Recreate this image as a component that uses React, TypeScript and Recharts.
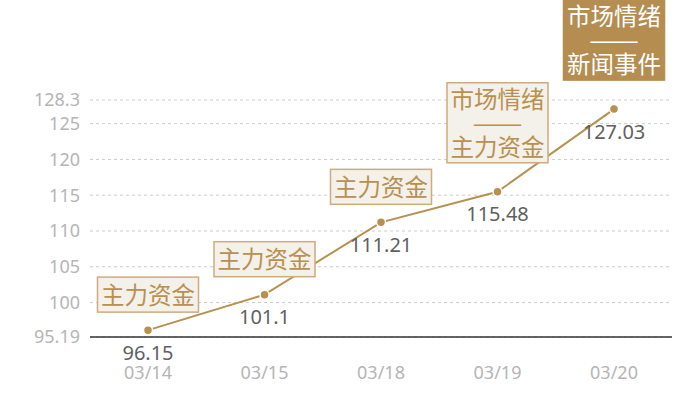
import React from "react";
import { LineChart, Line, XAxis, YAxis, CartesianGrid, LabelList } from "recharts";

// categories and values
const dates = ["03/14", "03/15", "03/18", "03/19", "03/20"];
const prices = [96.15, 101.1, 111.21, 115.48, 127.03];
const tags = [
  ["主力资金"],
  ["主力资金"],
  ["主力资金"],
  ["市场情绪", "——", "主力资金"],
  ["市场情绪", "——", "新闻事件"],
];
const highlighted = [false, false, false, false, true];
const yTicks = [95.19, 100, 105, 110, 115, 120, 125, 128.3];

const data = dates.map((date, i) => ({ date, price: prices[i] }));

const GOLD = "#b8904f";
const FONT = "'Noto Sans CJK SC', 'Noto Sans', sans-serif";
const NUM_FONT = "'Noto Sans', sans-serif";

const TagLabel = (props: any) => {
  const { x, y, index } = props;
  const lines = tags[index];
  if (!lines) return null;
  const hot = highlighted[index];
  const w = 101;
  const h = lines.length === 1 ? 35 : 80;
  const gap = lines.length === 1 ? 18 : 29;
  const bottom = y - gap;
  const top = bottom - h;
  const lineH = 24;
  const mid = top + h / 2 - 1;
  return (
    <g>
      <rect
        x={x - w / 2}
        y={top}
        width={w}
        height={h}
        fill={hot ? "#b58d50" : "#f4f0ea"}
        stroke={hot ? "#b58d50" : "#cdac7e"}
        strokeWidth={1.5}
      />
      {lines.map((t, k) => (
        <text
          key={k}
          x={x}
          y={mid + (k - (lines.length - 1) / 2) * lineH}
          textAnchor="middle"
          dominantBaseline="central"
          fill={hot ? "#ffffff" : GOLD}
          fontSize={23.5}
          fontFamily={FONT}
          textLength={t === "——" ? 50 : undefined}
          lengthAdjust="spacingAndGlyphs"
        >
          {t}
        </text>
      ))}
    </g>
  );
};

const ValueLabel = (props: any) => {
  const { x, y, value } = props;
  return (
    <text
      x={x}
      y={y + 22}
      textAnchor="middle"
      dominantBaseline="central"
      fill="#5f5f5f"
      fontSize={20}
      fontFamily={NUM_FONT}
    >
      {value}
    </text>
  );
};

const DateTick = (props: any) => {
  const { x, y, payload } = props;
  return (
    <text
      x={x}
      y={y + 35}
      textAnchor="middle"
      dominantBaseline="central"
      fill="#b5b5b5"
      fontSize={18}
      fontFamily={NUM_FONT}
    >
      {payload.value}
    </text>
  );
};

export default function App() {
  return (
    <div
      style={{
        position: "absolute",
        left: 0,
        top: 0,
        width: 700,
        height: 400,
        fontFamily: NUM_FONT,
      }}
    >
      <LineChart
        width={700}
        height={400}
        data={data}
        margin={{ top: 100, right: 28, left: 0, bottom: 0 }}
      >
        <CartesianGrid vertical={false} strokeDasharray="3 3" stroke="#cccccc" />
        <XAxis
          dataKey="date"
          height={63}
          padding={{ left: 58, right: 58 }}
          axisLine={{ stroke: "#333", strokeWidth: 1.5 }}
          tickLine={false}
          tickSize={0}
          tickMargin={0}
          tick={DateTick}
        />
        <YAxis
          width={90}
          domain={[95.19, 128.3]}
          ticks={yTicks}
          interval={0}
          axisLine={false}
          tickLine={false}
          tickMargin={4}
          tick={{ fill: "#b5b5b5", fontSize: 18, fontFamily: NUM_FONT }}
        />
        <Line
          dataKey="price"
          stroke={GOLD}
          strokeWidth={2}
          dot={{ r: 4.5, fill: GOLD, stroke: "#fff", strokeWidth: 1.5 }}
          activeDot={false}
          isAnimationActive={false}
        >
          <LabelList dataKey="price" content={ValueLabel} />
          <LabelList dataKey="price" content={TagLabel} />
        </Line>
      </LineChart>
    </div>
  );
}
